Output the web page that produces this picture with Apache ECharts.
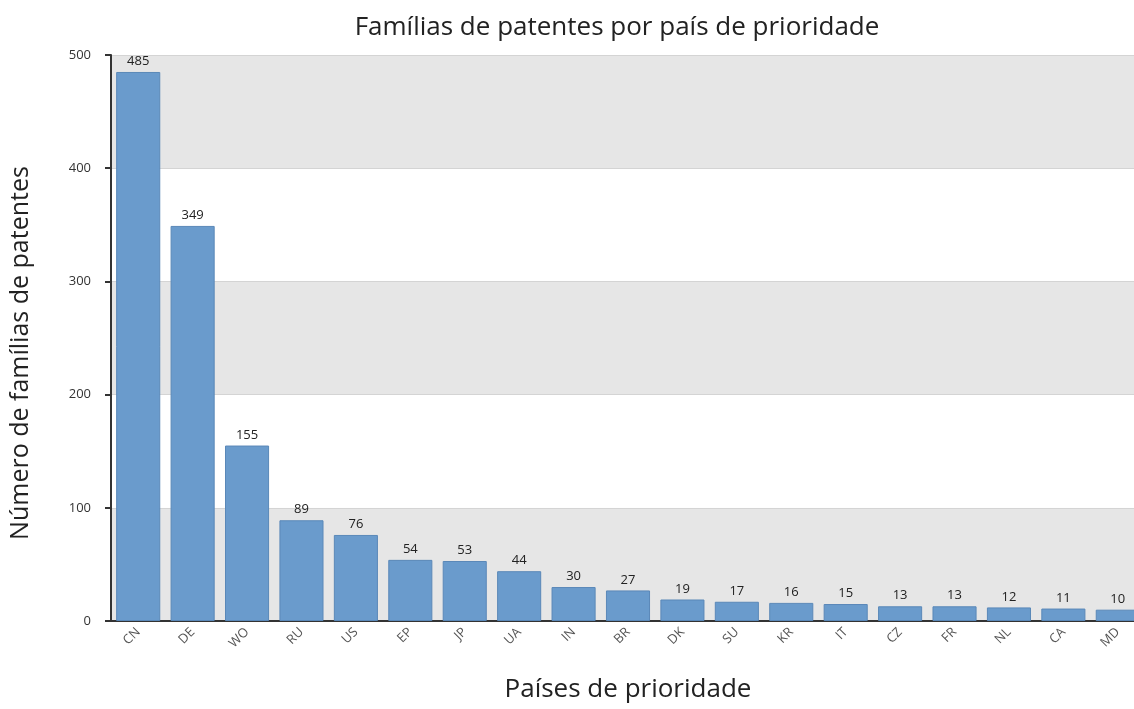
<!DOCTYPE html>
<html><head><meta charset="utf-8">
<script src="https://cdn.jsdelivr.net/npm/echarts@6/dist/echarts.min.js"></script>
<style>html,body{margin:0;padding:0;background:#fff}#c{width:1134px;height:709px}</style>
</head><body><div id="c"></div>
<script>
const categories = ['CN','DE','WO','RU','US','EP','JP','UA','IN','BR','DK','SU','KR','IT','CZ','FR','NL','CA','MD'];
const values = [485,349,155,89,76,54,53,44,30,27,19,17,16,15,13,13,12,11,10];
const yTicks = {min:0, max:500, interval:100};
const chart = echarts.init(document.getElementById('c'));
chart.setOption({
  animation:false,
  backgroundColor:'#fff',
  title:{text:'Famílias de patentes por país de prioridade', left:612, top:10, textAlign:'center',
    textStyle:{fontFamily:'Open Sans', fontWeight:'normal', fontSize:26, color:'#222'}},
  grid:{left:111, right:-11, top:55, bottom:88, outerBoundsMode:'none', containLabel:false},
  xAxis:{type:'category', data:categories,
    name:'Países de prioridade', nameLocation:'middle', nameGap:56,
    nameTextStyle:{fontFamily:'Open Sans', fontSize:26, color:'#222'},
    axisLine:{lineStyle:{color:'#333', width:2}},
    axisTick:{alignWithLabel:true, length:6, lineStyle:{color:'#333', width:2}},
    axisLabel:{rotate:45, fontFamily:'Open Sans', fontSize:13, color:'#555', margin:9}},
  yAxis:{type:'value', min:yTicks.min, max:yTicks.max, interval:yTicks.interval,
    name:'Número de famílias de patentes', nameLocation:'middle', nameGap:78,
    nameTextStyle:{fontFamily:'Open Sans', fontSize:25, color:'#222', padding:[0,30,0,0]},
    axisLine:{show:true, lineStyle:{color:'#333', width:2}},
    axisTick:{show:true, length:6, lineStyle:{color:'#333', width:2}},
    axisLabel:{fontFamily:'Open Sans', fontSize:13, color:'#333', margin:20},
    splitLine:{show:true, lineStyle:{color:'#d4d4d4', width:1}},
    splitArea:{show:true, areaStyle:{color:['#e6e6e6','#ffffff']}}},
  series:[{type:'bar', data:values, barCategoryGap:'19%',
    itemStyle:{color:'#6a9bcc', borderColor:'#5a88b8', borderWidth:1},
    label:{show:true, position:'top', distance:4, fontFamily:'Open Sans', fontSize:13, color:'#222'}}]
});
</script></body></html>
